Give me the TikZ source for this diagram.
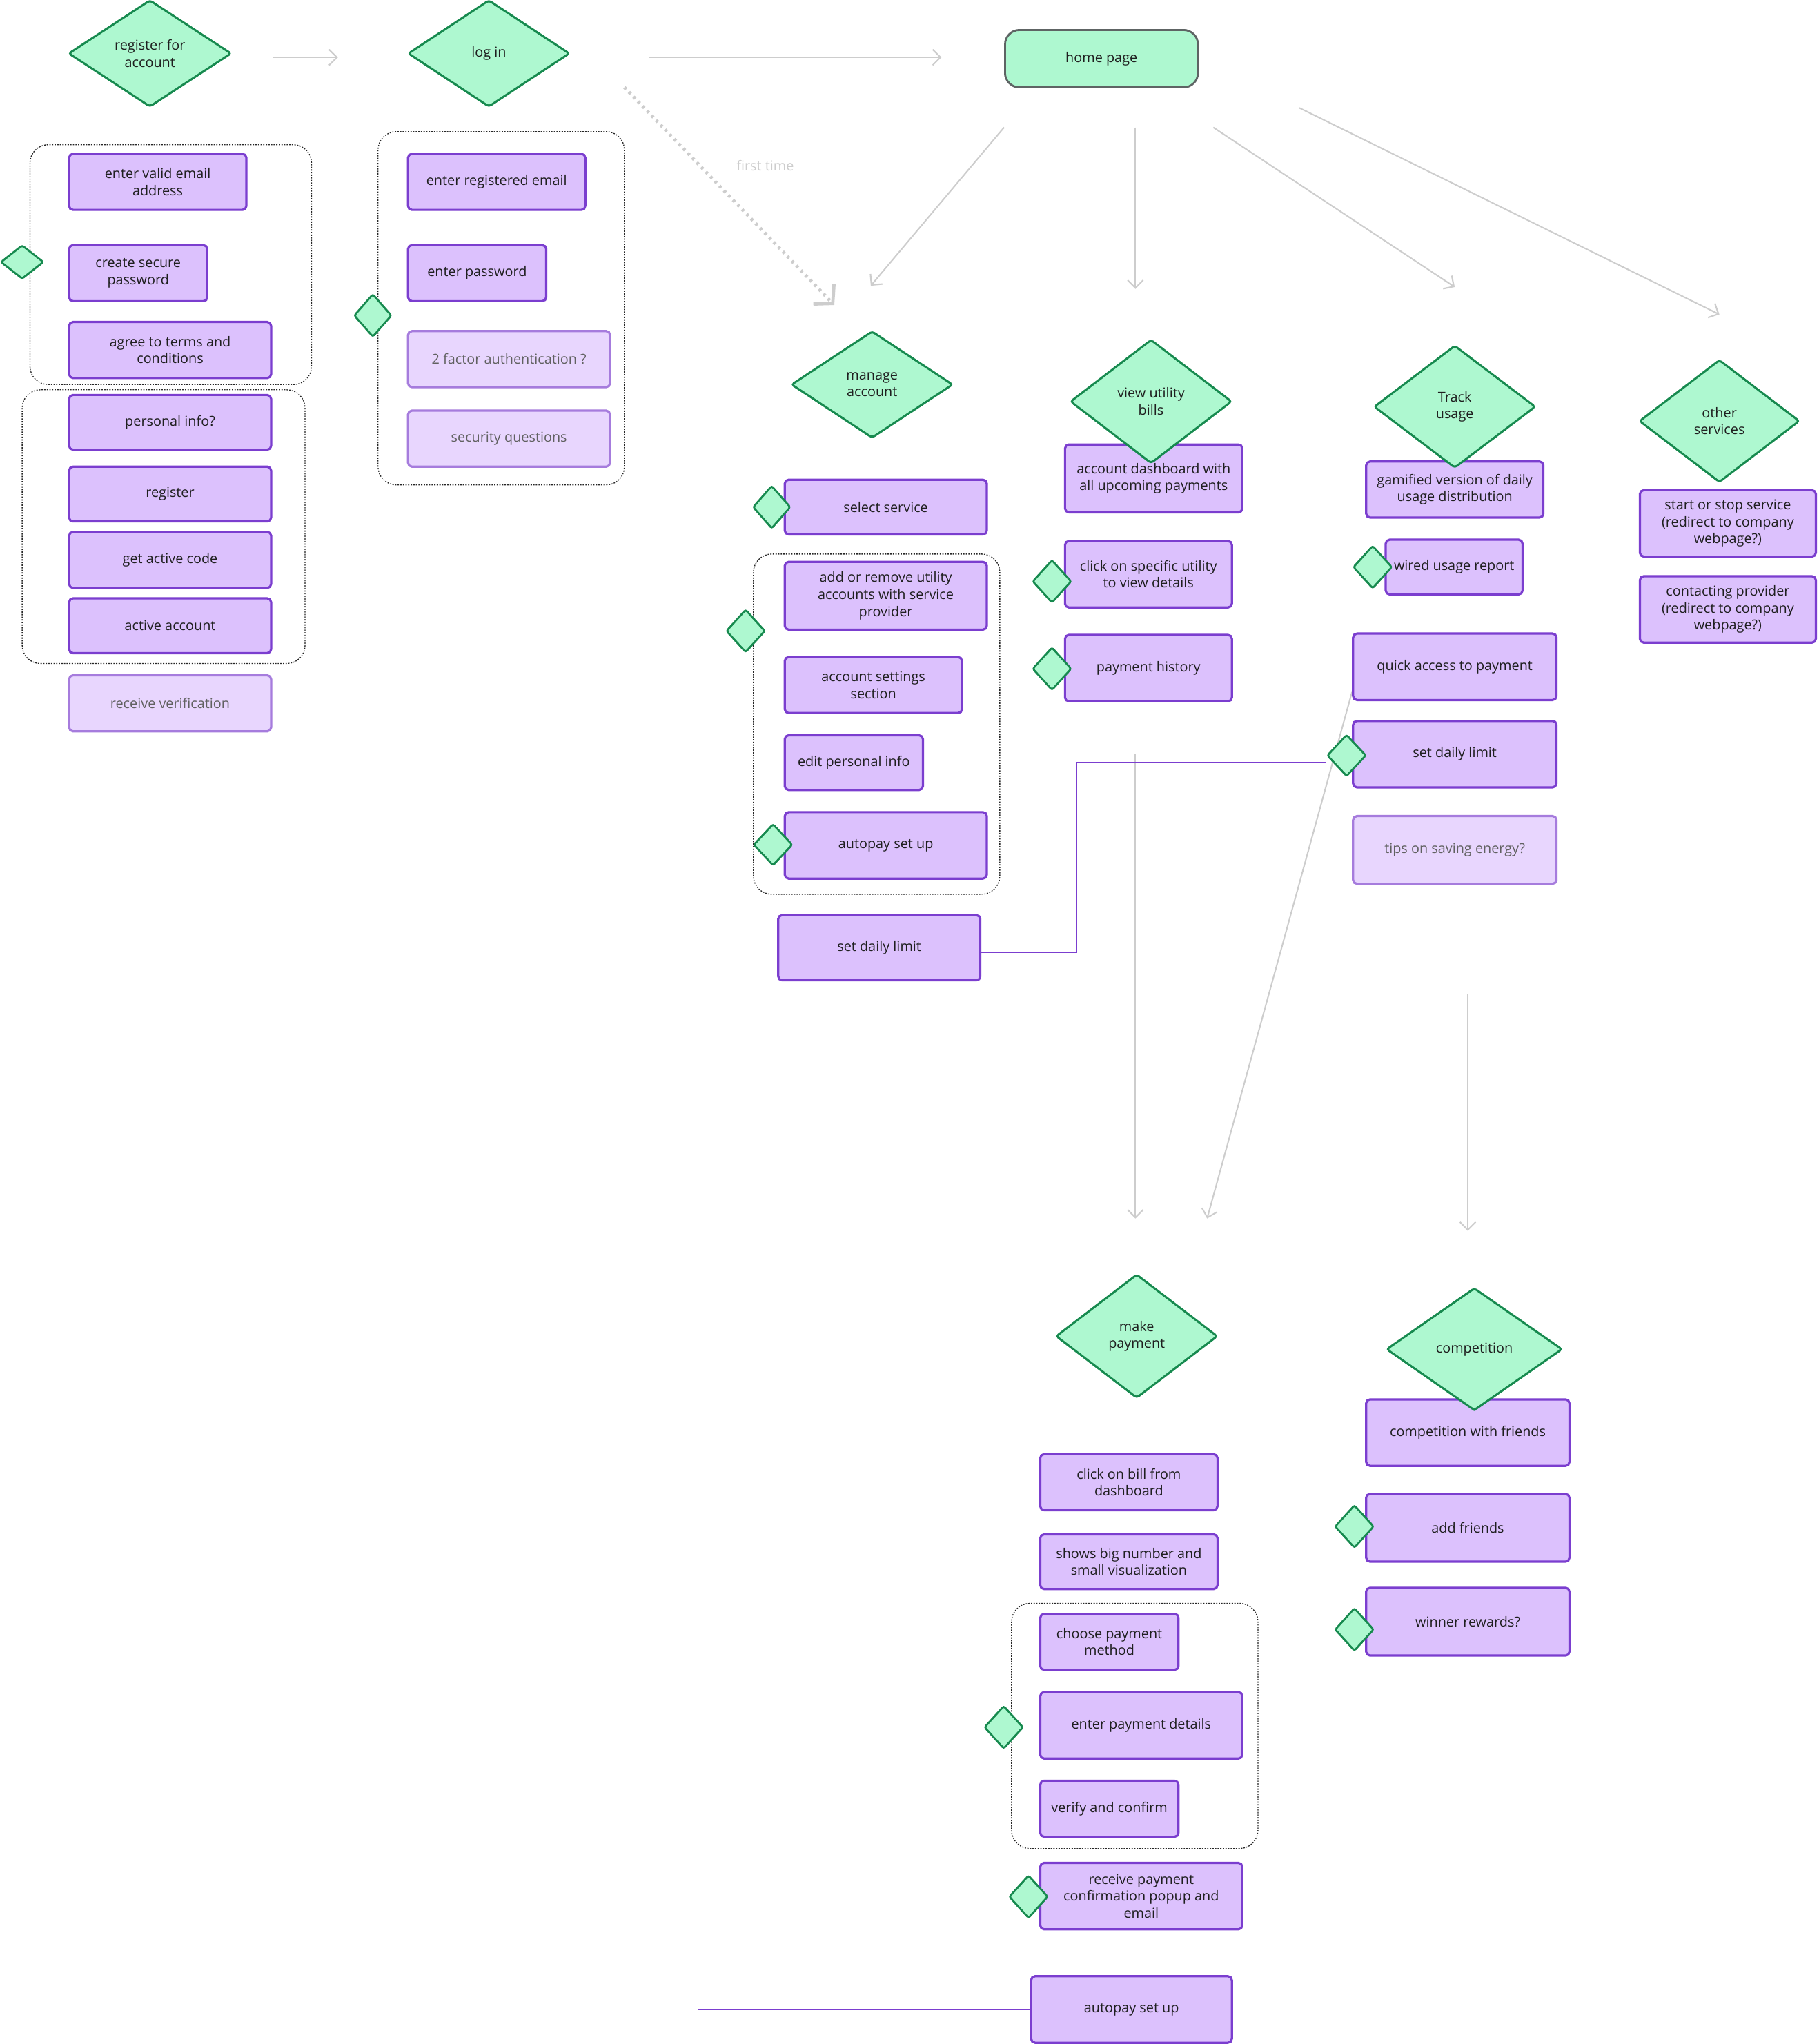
\documentclass[tikz,border=0pt]{standalone}
\usepackage{fontspec}
\setmainfont{Open Sans}
\usetikzlibrary{shapes.geometric,arrows.meta}

\definecolor{mint}{HTML}{AEF8D0}
\definecolor{mintline}{HTML}{178A4F}
\definecolor{lilac}{HTML}{DCC1FD}
\definecolor{lilacline}{HTML}{7B3ECF}
\definecolor{palelilac}{HTML}{E8D6FE}
\definecolor{paleline}{HTML}{A67CDD}
\definecolor{flowgray}{HTML}{CDCDCD}
\definecolor{homeline}{HTML}{5E6464}

\pgfdeclarelayer{background}
\pgfsetlayers{background,main}

\tikzset{
  every node/.style={font=\fontsize{10.5}{13}\selectfont, text=black!88},
  task/.style 2 args={draw=lilacline, fill=lilac, line width=1.7pt, rounded corners=3pt,
    minimum width=#1pt, minimum height=#2pt, inner sep=0pt, align=center},
  maybe/.style 2 args={task={#1}{#2}, draw=paleline, fill=palelilac, text=black!62},
  choice/.style 2 args={diamond, aspect=1.5, draw=mintline, fill=mint, line width=1.6pt,
    rounded corners=2pt, minimum width=#1pt, minimum height=#2pt, inner sep=0pt, align=center},
  tick/.style={diamond, draw=mintline, fill=mint, line width=1.5pt, rounded corners=1.5pt,
    minimum width=30pt, minimum height=33pt, inner sep=0pt},
  group/.style={draw=black!85, line width=0.7pt, dash pattern=on 1pt off 1pt, rounded corners=14pt},
  flow/.style={draw=flowgray, line width=1.1pt, -{Straight Barb[length=6pt,width=12pt]}},
  firsttime/.style={draw=flowgray, line width=2.5pt, dash pattern=on 2pt off 3pt,
    -{Straight Barb[length=10pt,width=22pt]}},
  link/.style={draw=lilacline, line width=0.6pt},
}

\begin{document}
\begin{tikzpicture}[x=1pt,y=-1pt]
\useasboundingbox (0,0) rectangle (1395,1568);

\draw[group] (23,111) rectangle (239,295);
\draw[group] (17,299) rectangle (234,509);
\draw[group] (290,101) rectangle (479,372);
\draw[group] (578,425) rectangle (767,686);
\draw[group] (776,1230) rectangle (965,1418);

% register for account
\node[task={136}{43}] (email) at (121,139.5) {enter valid email\\address};
\node[task={106}{43}] (secure) at (106,209.5) {create secure\\password};
\node[task={155}{43}] (terms) at (130.5,268.5) {agree to terms and\\conditions};
\node[task={155}{42}] (personal) at (130.5,324) {personal info?};
\node[task={155}{42}] (register) at (130.5,379) {register};
\node[task={155}{43}] (code) at (130.5,429.5) {get active code};
\node[task={155}{42}] (active) at (130.5,480) {active account};
\node[maybe={155}{43}] (verification) at (130.5,539.5) {receive verification};
\node[choice={125}{82}] (regacc) at (115,41) {register for\\account};
\node[tick, minimum width=33pt, minimum height=26pt] (tickreg) at (17,201) {};

% log in
\node[task={136}{43}] (regemail) at (381,139.5) {enter registered email};
\node[task={106}{43}] (password) at (366,209.5) {enter password};
\node[maybe={155}{43}] (twofactor) at (390.5,275.5) {2 factor authentication ?};
\node[maybe={155}{43}] (questions) at (390.5,336.5) {security questions};
\node[choice={124}{82}] (login) at (375,41) {log in};
\node[tick, minimum width=29pt] (ticklogin) at (286,242) {};

% home page
\node[draw=homeline, fill=mint, line width=1.5pt, rounded corners=11pt,
  minimum width=148pt, minimum height=44pt, inner sep=0pt] (home) at (845,45) {home page};
\node[text=flowgray] (firstlabel) at (587,127) {first time};

% manage account
\node[task={155}{42}] (service) at (679.5,389) {select service};
\node[task={155}{52}] (addremove) at (679.5,457) {add or remove utility\\accounts with service\\provider};
\node[task={136}{43}] (settings) at (670,525.5) {account settings\\section};
\node[task={106}{42}] (editinfo) at (655,585) {edit personal info};
\node[task={155}{51}] (autopay) at (679.5,648.5) {autopay set up};
\node[task={155}{50}] (limitacc) at (674.5,727) {set daily limit};
\node[choice={124}{82}] (manage) at (669,295) {manage\\account};
\node[tick, minimum width=29pt] (tickservice) at (592,389) {};
\node[tick] (tickaccounts) at (572,484) {};
\node[tick, minimum height=32pt] (tickautopay) at (593,648) {};

% view utility bills
\node[task={136}{52}] (dashboard) at (885,367) {account dashboard with\\all upcoming payments};
\node[task={128}{51}] (utility) at (881,440.5) {click on specific utility\\to view details};
\node[task={128}{51}] (history) at (881,512.5) {payment history};
\node[choice={124}{95}] (bills) at (883,308) {view utility\\bills};
\node[tick] (tickutility) at (807,446) {};
\node[tick] (tickhistory) at (807,513) {};

% track usage
\node[task={136}{43}] (gamified) at (1116,375.5) {gamified version of daily\\usage distribution};
\node[task={105}{42}] (wired) at (1115.5,435) {wired usage report};
\node[task={156}{51}] (quick) at (1116,511.5) {quick access to payment};
\node[task={156}{51}] (limittrack) at (1116,578.5) {set daily limit};
\node[maybe={156}{52}] (tips) at (1116,652) {tips on saving energy?};
\node[choice={124}{94}] (track) at (1116,312) {Track\\usage};
\node[tick] (tickwired) at (1053,435) {};
\node[tick, minimum height=32pt] (ticklimit) at (1033,579.5) {};

% other services
\node[task={135}{51}] (startstop) at (1325.5,401.5) {start or stop service\\(redirect to company\\webpage?)};
\node[task={135}{51}] (contact) at (1325.5,467.5) {contacting provider\\(redirect to company\\webpage?)};
\node[choice={123}{94}] (other) at (1319,323) {other\\services};

% make payment
\node[choice={124}{95}] (pay) at (872,1025) {make\\payment};
\node[task={136}{43}] (clickbill) at (866,1137) {click on bill from\\dashboard};
\node[task={136}{42}] (bignumber) at (866,1198) {shows big number and\\small visualization};
\node[task={106}{43}] (method) at (851,1259.5) {choose payment\\method};
\node[task={155}{51}] (paydetails) at (875.5,1323.5) {enter payment details};
\node[task={106}{43}] (confirm) at (851,1387.5) {verify and confirm};
\node[task={155}{51}] (receipt) at (875.5,1454.5) {receive payment\\confirmation popup and\\email};
\node[task={154}{51}] (autopaypay) at (868,1541.5) {autopay set up};
\node[tick] (tickpayment) at (770,1325) {};
\node[tick] (tickreceipt) at (789,1455) {};

% competition
\node[task={156}{51}] (friends) at (1126,1099) {competition with friends};
\node[task={156}{52}] (addfriends) at (1126,1172) {add friends};
\node[task={156}{52}] (rewards) at (1126,1244) {winner rewards?};
\node[choice={135}{94}] (comp) at (1131,1035) {competition};
\node[tick] (tickfriends) at (1039,1171) {};
\node[tick] (tickrewards) at (1039,1250) {};

\coordinate (ftstart) at (479,67);
\coordinate (ftend) at (640,234);

\begin{pgfonlayer}{background}
\fill[white] (0,0) rectangle (1395,1568);
\draw[flow, shorten <=31pt, shorten >=53pt] ([yshift=-3pt]regacc.east) -- ([yshift=-3pt]login.west);
\draw[flow, shorten <=60pt, shorten >=48pt] ([yshift=-3pt]login.east) -- ([yshift=1pt]home.west);
\draw[firsttime] (ftstart) -- (ftend);
\draw[flow] ([yshift=-30pt]home.south west) -- ([xshift=-1pt,yshift=34pt]manage.north);
\draw[flow] ([xshift=26pt,yshift=-30pt]home.south) -- ([xshift=-12pt,yshift=38pt]bills.north);
\draw[flow] ([xshift=11pt,yshift=-30pt]home.south east) -- ([yshift=44pt]track.north);
\draw[flow] ([xshift=77pt,yshift=-15pt]home.south east) -- ([yshift=34pt]other.north);
\draw[flow] ([xshift=-10pt,yshift=-40pt]history.south) -- ([xshift=-1pt,yshift=42pt]pay.north);
\draw[flow] ([yshift=7pt]quick.south west) -- ([xshift=54pt,yshift=42pt]pay.north);
\draw[flow] ([xshift=10pt,yshift=-84pt]tips.south) -- ([xshift=-5pt,yshift=43pt]comp.north);
\draw[link] (tickautopay.west) -- ++(-42,0) |- (autopaypay.west);
\draw[link] ([yshift=-4pt]limitacc.east) -- ++(73,0) |- ([yshift=-5pt]ticklimit.west);
\end{pgfonlayer}
\end{tikzpicture}
\end{document}
